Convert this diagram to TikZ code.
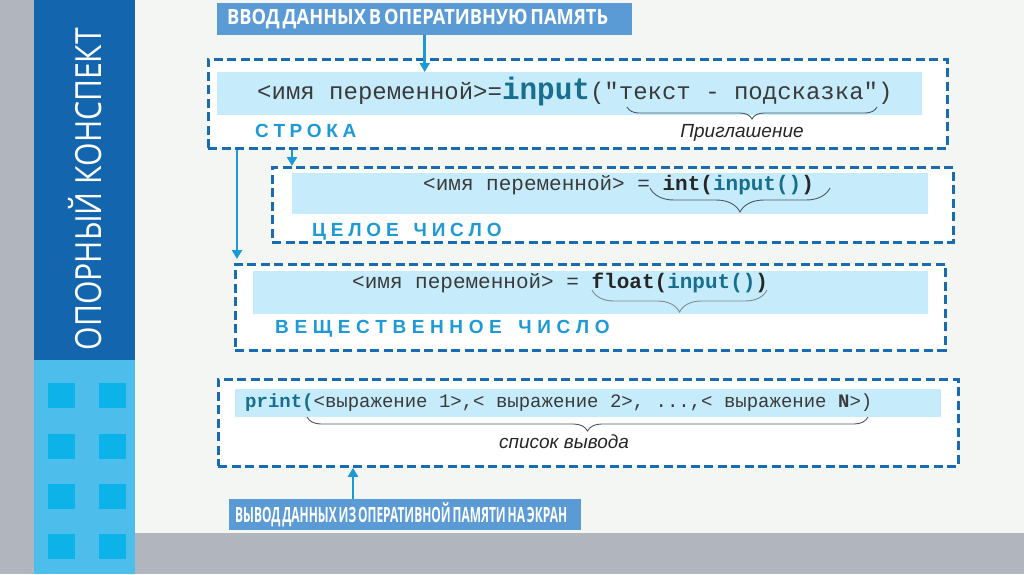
\documentclass[tikz,border=0pt]{standalone}
\usepackage{fontspec}
\usepackage{graphicx}
\setmainfont{Liberation Sans}
\newfontfamily\osans{Open Sans}
\newfontfamily\mono{Liberation Mono}
\usetikzlibrary{arrows.meta,decorations.pathreplacing}
\definecolor{grayband}{HTML}{B0B5BE}
\definecolor{darkpanel}{HTML}{1366AE}
\definecolor{lightpanel}{HTML}{4DBEEC}
\definecolor{sqcol}{HTML}{0BB3E9}
\definecolor{bgcol}{HTML}{F4F6F3}
\definecolor{ttlcol}{HTML}{5B9BD5}
\definecolor{dashcol}{HTML}{1A6CB2}
\definecolor{arrcol}{HTML}{1C9AD6}
\definecolor{bandcol}{HTML}{C6ECFB}
\definecolor{lblcol}{HTML}{1E9AD6}
\definecolor{codecol}{HTML}{3A3A3A}
\definecolor{codeteal}{HTML}{186E8E}
\definecolor{bracecol}{HTML}{4A5866}
\def\lsend{\relax}
\def\lsloop#1{\ifx#1\lsend\else#1\kern\lskern\expandafter\lsloop\fi}
\newdimen\lskern
\begin{document}
\begin{tikzpicture}[x=1pt,y=-1pt,
  ttlbox/.style={fill=ttlcol,text=white,inner ysep=0pt,align=left},
  dbox/.style={draw=dashcol,fill=white,line width=2.8pt,dash pattern=on 9pt off 4.5pt,inner sep=0pt,anchor=north west},
  bandbox/.style={fill=bandcol,inner sep=0pt,anchor=north west},
  codetxt/.style={anchor=base west,inner sep=0pt,text=codecol},
  lbltxt/.style={anchor=base west,inner sep=0pt,text=lblcol},
  captxt/.style={anchor=base,inner sep=0pt,text=black!85,font=\fontsize{19}{19}\selectfont\itshape},
  arrowline/.style={draw=arrcol,line width=2.6pt,-{Triangle[length=9pt,width=10pt]}},
  bracedeco/.style={draw=bracecol,line width=0.9pt,decorate},
  sqbox/.style={fill=sqcol,inner sep=0pt,minimum width=27pt,minimum height=25pt,anchor=north west}
]
\useasboundingbox (0,0) rectangle (1024,574);
% background
\fill[bgcol] (0,0) rectangle (1024,574);
\fill[grayband] (0,0) rectangle (34,574);
\fill[grayband] (135,533) rectangle (1024,574);
\fill[darkpanel] (34,0) rectangle (135,360);
\fill[lightpanel] (34,360) rectangle (135,574);
\foreach \yy in {383,434,484,534}{
  \node[sqbox] at (48,\yy) {};
  \node[sqbox] at (99,\yy) {};
}
\node[rotate=90,text=white,inner sep=0pt] (vt) at (85,189)
  {\resizebox{322pt}{\height}{\osans\fontsize{36}{36}\selectfont ОПОРНЫЙ КОНСПЕКТ}};

% title boxes
\node[ttlbox,anchor=north west,text width=395pt,inner xsep=10pt,minimum height=32pt] (t1) at (217,3)
  {\resizebox{381pt}{\height}{\osans\bfseries\fontsize{21}{21}\selectfont ВВОД ДАННЫХ В ОПЕРАТИВНУЮ ПАМЯТЬ}};
\node[ttlbox,anchor=north west,text width=340pt,inner xsep=6pt,minimum height=31pt] (t2) at (229,499)
  {\resizebox{332pt}{\height}{\osans\bfseries\fontsize{21}{21}\selectfont ВЫВОД ДАННЫХ ИЗ ОПЕРАТИВНОЙ ПАМЯТИ НА ЭКРАН}};

% dashed boxes
\node[dbox,minimum width=739pt,minimum height=89pt] (b1) at (207,58) {};
\node[dbox,minimum width=681pt,minimum height=75pt] (b2) at (271,166) {};
\node[dbox,minimum width=710pt,minimum height=86pt] (b3) at (234,263) {};
\node[dbox,minimum width=740pt,minimum height=87pt] (b4) at (217,378) {};

% bands
\node[bandbox,minimum width=705pt,minimum height=43pt] (band1) at (217,72) {};
\node[bandbox,minimum width=636pt,minimum height=41pt] (band2) at (292,173) {};
\node[bandbox,minimum width=675pt,minimum height=43pt] (band3) at (253,271) {};
\node[bandbox,minimum width=706pt,minimum height=28pt] (band4) at (235,389) {};

% code lines
\node[codetxt] (c1) at (257,99) {\mono\fontsize{24}{24}\selectfont
  <имя переменной>=\textcolor{codeteal}{\resizebox{88pt}{\height}{\bfseries\fontsize{31}{31}\selectfont input}}("текст - подсказка")};
\node[codetxt] (c2) at (423,190) {\mono\fontsize{21}{21}\selectfont
  <имя переменной> = {\bfseries\color{black!85}int(\textcolor{codeteal}{input()})}};
\node[codetxt] (c3) at (352,288) {\mono\fontsize{21}{21}\selectfont
  <имя переменной> = {\bfseries\color{black!85}float(\textcolor{codeteal}{input()})}};
\node[codetxt] (c4) at (245,407) {\mono\fontsize{19}{19}\selectfont
  \textcolor{codeteal}{\bfseries print(}<выражение 1>,< выражение 2>, ...,< выражение {\bfseries N}>)};

% section labels
\node[lbltxt] (l1) at (255,137) {\fontsize{19}{19}\selectfont\bfseries\lskern=4.6pt\lsloop СТРОКА\lsend};
\node[lbltxt] (l2) at (312,236) {\fontsize{19}{19}\selectfont\bfseries\lskern=4.8pt\lsloop ЦЕЛОЕ{\ }ЧИСЛО\lsend};
\node[lbltxt] (l3) at (275,333) {\fontsize{19}{19}\selectfont\bfseries\lskern=5.6pt\lsloop ВЕЩЕСТВЕННОЕ{\ }ЧИСЛО\lsend};

% braces
\draw[bracedeco,decoration={brace,mirror,amplitude=12pt}] (627,107) -- (877,107);
\draw[bracedeco,decoration={brace,mirror,amplitude=24pt}] (650,188) -- (830,188);
\draw[bracedeco,draw=bracecol!70,decoration={brace,mirror,amplitude=22pt}] (592,290) -- (767,290);
\draw[bracedeco,decoration={brace,mirror,amplitude=14pt}] (307,417) -- (868,417);

\node[captxt] (p1) at (742,137) {Приглашение};
\node[captxt] (p4) at (564,448) {список вывода};

% arrows
\coordinate (a3) at (237,0);
\coordinate (a4) at (353,0);
\draw[arrowline] (t1.south) -- (t1.south |- band1.north);
\draw[arrowline] (b1.south -| band2.west) -- (b2.north -| band2.west);
\draw[arrowline] (b1.south -| a3) -- ([yshift=4pt]b3.north -| a3);
\draw[arrowline] (t2.north -| a4) -- (b4.south -| a4);
\end{tikzpicture}
\end{document}
